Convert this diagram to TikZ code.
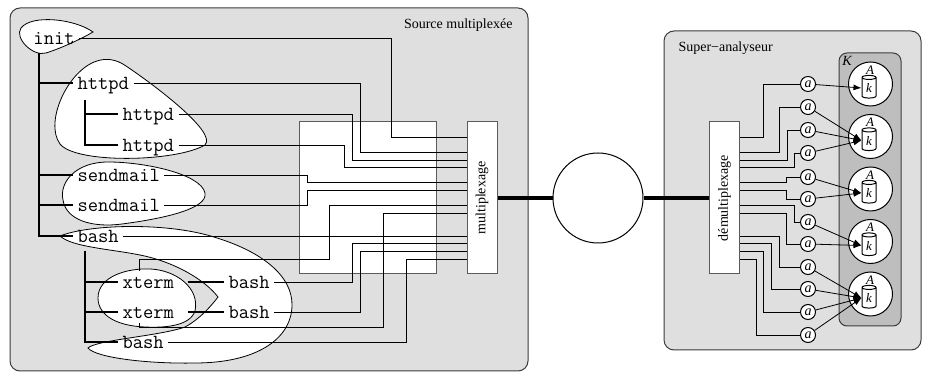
\documentclass[tikz,border=0pt]{standalone}
\usepackage{fontspec}
\setmainfont{Liberation Serif}
\usepackage{graphicx}
\usetikzlibrary{shapes.geometric,arrows.meta}

\tikzset{every picture/.style={line width=0.75pt}}
\tikzset{
  panel/.style={draw={rgb, 255:red, 60; green, 60; blue, 60}, fill={rgb, 255:red, 223; green, 223; blue, 223}, rounded corners=7.5pt, line width=0.75pt},
  kpanel/.style={draw={rgb, 255:red, 60; green, 60; blue, 60}, fill={rgb, 255:red, 190; green, 190; blue, 190}, rounded corners=6pt, line width=0.75pt},
  paneltitle/.style={font=\fontsize{10.5}{12}\selectfont, inner sep=0pt},
  blob/.style={draw, fill=white, line width=0.6pt},
  tree/.style={line width=1pt},
  wire/.style={line width=0.65pt},
  proc/.style={font=\fontsize{15}{17}\ttfamily, anchor=west, inner sep=3pt, text height=9.75pt, text depth=0pt},
  muxbox/.style={draw={rgb, 255:red, 90; green, 90; blue, 90}, fill=white, minimum width=22.5pt, minimum height=114pt, inner sep=0pt, font=\fontsize{10.5}{12}\selectfont},
  trunkline/.style={line width=3pt},
  achan/.style={circle, draw, fill=white, minimum size=11.25pt, inner sep=0pt, font=\fontsize{10.5}{12}\itshape},
  anode/.style={circle, draw, fill=white, minimum size=33pt, inner sep=0pt},
  store/.style={cylinder, shape border rotate=90, draw, fill=white, minimum width=10.5pt, minimum height=17pt, aspect=0.7, inner sep=0pt, font=\fontsize{9.75}{11}\itshape},
  feed/.style={-{Latex[length=6pt,width=4.5pt]}, line width=0.6pt}
}

\begin{document}
\begin{tikzpicture}[x=0.75pt,y=0.75pt,yscale=-1,xscale=1]
\useasboundingbox (0,0) rectangle (928,373);

%Shape: Rounded Rect [id:source]
\draw[panel] (10,8) rectangle (528,371);
%Shape: Rounded Rect [id:analyser]
\draw[panel] (664,31) rectangle (921,350);
%Shape: Rounded Rect [id:kset]
\draw[kpanel] (839,53) rectangle (901,326);

% Text Node
\node[paneltitle, anchor=east] (srclbl) at (513,25) {Source multiplexée};
% Text Node
\node[paneltitle, anchor=west] (anlbl) at (678,48) {Super−analyseur};
% Text Node
\node[paneltitle, font=\fontsize{10.5}{12}\itshape] (klbl) at (847,61) {K};

%Shape: Blob [id:init]
\draw[blob] (93,32) .. controls (75,19) and (32,14) .. (21,28) .. controls (14,38) and (33,57) .. (46,53) .. controls (62,48) and (83,38) .. (93,32) -- cycle;
%Shape: Blob [id:httpd]
\draw[blob] (97,61) .. controls (68,70) and (44,122) .. (60,144) .. controls (76,164) and (176,162) .. (205,145) .. controls (218,132) and (150,82) .. (126,66) .. controls (116,59) and (106,58) .. (97,61) -- cycle;
%Shape: Blob [id:sendmail]
\draw[blob] (108,162) .. controls (76,162) and (59,182) .. (63,200) .. controls (66,220) and (92,228) .. (122,224) .. controls (168,218) and (208,208) .. (205,193) .. controls (201,174) and (145,162) .. (108,162) -- cycle;
%Shape: Blob [id:bash]
\draw[blob] (60,236) .. controls (90,224) and (170,222) .. (217,238) .. controls (262,252) and (293,276) .. (292,306) .. controls (291,340) and (255,363) .. (195,363) .. controls (150,364) and (96,358) .. (88,348) .. controls (96,340) and (160,336) .. (185,327) .. controls (200,319) and (212,305) .. (218,297) .. controls (205,280) and (175,262) .. (140,255) .. controls (110,249) and (72,247) .. (60,236) -- cycle;
%Shape: Blob [id:xterm]
\draw[blob] (98,298) .. controls (98,276) and (128,268) .. (150,269) .. controls (176,270) and (200,288) .. (195,311) .. controls (190,326) and (165,328) .. (145,327) .. controls (118,326) and (98,316) .. (98,298) -- cycle;

%Shape: Rectangle [id:switch]
\draw[draw={rgb, 255:red, 90; green, 90; blue, 90}, fill=white] (299,122) rectangle (436,274);

% Text Node
\node[proc] (init) at (29,38) {init};
\node[proc] (h1) at (73,83) {httpd};
\node[proc] (h2) at (118,114) {httpd};
\node[proc] (h3) at (118,145) {httpd};
\node[proc] (s1) at (73,175) {sendmail};
\node[proc] (s2) at (73,205) {sendmail};
\node[proc] (b0) at (73,236) {bash};
\node[proc] (x1) at (118,282) {xterm};
\node[proc] (x2) at (118,312) {xterm};
\node[proc] (b3) at (118,342) {bash};
\node[proc] (b1) at (224,282) {bash};
\node[proc] (b2) at (224,312) {bash};

%Tree Lines
\coordinate (root) at (39,53);
\coordinate (hroot) at (85,100);
\coordinate (broot) at (85,251);
\draw[tree] (root) |- (b0.west);
\foreach \n in {h1,s1,s2} \draw[tree] (root |- \n) -- (\n.west);
\draw[tree] (hroot) |- (h3.west);
\draw[tree] (hroot |- h2) -- (h2.west);
\draw[tree] (broot) |- (b3.west);
\foreach \n in {x1,x2} \draw[tree] (broot |- \n) -- (\n.west);
\draw[tree, shorten <=7pt] (x1.east) -- (b1.west);
\draw[tree, shorten <=7pt] (x2.east) -- (b2.west);

% Multiplexers
\node[muxbox] (mx) at (482,198) {\rotatebox{90}{multiplexage}};
\node[muxbox] (dm) at (724.5,198) {\rotatebox{90}{démultiplexage}};
\node[circle, draw, fill=white, minimum size=67.5pt, inner sep=0pt] (chan) at (598,198) {};
\draw[trunkline] (mx.east) -- (chan.west);
\draw[trunkline] (chan.east) -- (dm.west);

%Straight Lines into multiplexage
\draw[wire] (init.east) -| (391,137) -- (mx.west |- 0,137);
\draw[wire] (h1.east) -| (360,152) -- (mx.west |- 0,152);
\draw[wire] (h2.east) -| (352,160) -- (mx.west |- 0,160);
\draw[wire] (h3.east) -| (344,167) -- (mx.west |- 0,167);
\draw[wire] (s1.east) -| (307,182) -- (mx.west |- 0,182);
\draw[wire] (s2.east) -| (307,190) -- (mx.west |- 0,190);
\draw[wire] (x1.north -| 139,0) |- (329,259) |- (mx.west |- 0,205);
\draw[wire] (x2.south -| 139,0) |- (383,327) |- (mx.west |- 0,213);
\draw[wire] (b0.east) -- (mx.west |- b0);
\draw[wire] (b1.east) -| (352,243) -- (mx.west |- 0,243);
\draw[wire] (b2.east) -| (360,251) -- (mx.west |- 0,251);
\draw[wire] (b3.east) -| (406,259) -- (mx.west |- 0,259);

%Analysers
\foreach \c [count=\j] in {84,136.5,189,241.5,294} {
  \node[anode] (A\j) at (870.5,\c) {};
  \node[store] (cy\j) at (869,\c+4) {k};
  \node[font=\fontsize{9.75}{11}\itshape, inner sep=0pt] (Al\j) at (870,\c-14) {A};
}

%Straight Lines out of démultiplexage
\foreach \ay/\ey/\bx [count=\i] in {84/137/763, 107/152/779, 130/160/787, 153/167/794, 177/182/786, 199/190/786, 222/205/794, 244/213/786, 267/236/779, 289/243/771, 312/251/763, 335/259/756} {
  \node[achan] (a\i) at (808,\ay) {a};
  \draw[wire] (dm.east |- 0,\ey) -- (\bx,\ey) |- (a\i);
}

%Arrows
\draw[feed] (a1) -- (cy1.west);
\foreach \i in {2,3,4} \draw[feed] (a\i) -- (cy2.west);
\foreach \i in {5,6} \draw[feed] (a\i) -- (cy3.west);
\foreach \i in {7,8} \draw[feed] (a\i) -- (cy4.west);
\foreach \i in {9,...,12} \draw[feed] (a\i) -- (cy5.west);

\end{tikzpicture}
\end{document}
